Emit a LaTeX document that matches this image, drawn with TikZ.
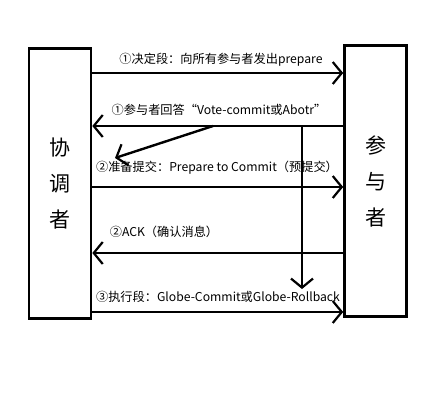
\documentclass[tikz,border=0pt]{standalone}
\usepackage{fontspec}
\newfontfamily\cjk{Noto Sans CJK SC}
\usetikzlibrary{arrows.meta,positioning}

\tikzset{
    party/.style={draw,line width=2.6pt,minimum width=62pt,inner sep=0pt,
        font=\cjk\fontsize{21}{36}\selectfont,align=center},
    msg/.style={line width=2.4pt,-{Straight Barb[length=9pt,width=22pt,line width=2.2pt]}},
    msglabel/.style={font=\cjk\fontsize{12.2}{14}\selectfont,inner sep=1pt}
}

\begin{document}
\begin{tikzpicture}[x=1pt,y=-1pt]
    \useasboundingbox (0,0) rectangle (421,415);
    % the two sides
    \node[party,minimum height=270pt] (coord) at (60,183.5) {协\\调\\者};
    \node[party,minimum height=271pt] (part) at (375.5,181) {参\\与\\者};

    % phase one
    \draw[msg] (coord.east |- 0,73) -- (part.west |- 0,73);
    \node[msglabel] (prep) at (221,60) {①决定段：向所有参与者发出prepare};
    \draw[msg] (part.west |- 0,126) -- (coord.east |- 0,126);
    \node[msglabel] (vote) at (219,110) {①参与者回答“Vote-commit或Abotr”};

    % phase two
    \coordinate (voteA) at (213,126);
    \coordinate (voteB) at (115,158);
    \draw[msg] (voteA) -- (voteB);
    \draw[msg] (coord.east |- 0,187) -- (part.west |- 0,187);
    \node[msglabel] (pre) at (217,168) {②准备提交：Prepare to Commit（预提交）};
    \draw[msg] (part.west |- 0,253) -- (coord.east |- 0,253);
    \node[msglabel] (ack) at (164,232) {②ACK（确认消息）};

    % phase three
    \coordinate (downA) at (302,126);
    \coordinate (downB) at (302,289);
    \draw[msg] (downA) -- (downB);
    \draw[msg] (coord.east |- 0,312) -- (part.west |- 0,312);
    \node[msglabel] (exec) at (218,297) {③执行段：Globe-Commit或Globe-Rollback};
\end{tikzpicture}
\end{document}
